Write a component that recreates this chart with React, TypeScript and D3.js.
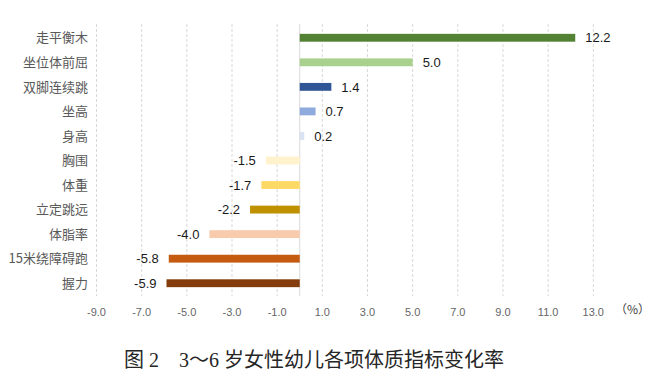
import React from "react";
import * as d3 from "d3";

const categories = ["走平衡木", "坐位体前屈", "双脚连续跳", "坐高", "身高", "胸围", "体重", "立定跳远", "体脂率", "15米绕障碍跑", "握力"];
const values = [12.2, 5.0, 1.4, 0.7, 0.2, -1.5, -1.7, -2.2, -4.0, -5.8, -5.9];
const colors = ["#548235", "#A9D18E", "#2F5597", "#8FAADC", "#DAE3F3", "#FFF2CC", "#FFD966", "#BF9000", "#F8CBAD", "#C55A11", "#843C0C"];
const tickValues = [-9, -7, -5, -3, -1, 1, 3, 5, 7, 9, 11, 13];
const captionFig = "图 2";
const captionText = "3～6 岁女性幼儿各项体质指标变化率";

export default function App() {
  const W = 658, H = 381;
  const x = d3.scaleLinear().domain([-9, 13]).range([96.5, 593.3]);
  const y = d3.scaleBand<string>().domain(categories).range([25.5, 295.5]).paddingInner(0.68).paddingOuter(0.34);
  const bw = y.bandwidth();
  const cjk = "'Noto Sans CJK SC', sans-serif";
  const num = "'Liberation Sans', 'DejaVu Sans', sans-serif";
  const serif = "'Liberation Serif', 'Noto Sans CJK SC', serif";
  return (
    <svg width={W} height={H} style={{ position: "absolute", left: 0, top: 0, background: "#fff" }}>
      {tickValues.map((t) => (
        <line key={"g" + t} x1={x(t)} x2={x(t)} y1={24} y2={296} stroke="#d9d9d9" strokeWidth={1} strokeDasharray="3,2" />
      ))}
      <line x1={x(0)} x2={x(0)} y1={24} y2={296} stroke="#d9d9d9" strokeWidth={1} />
      {categories.map((c, i) => {
        const v = values[i];
        const x0 = Math.min(x(0), x(v));
        const w = Math.abs(x(v) - x(0));
        const yc = (y(c) as number) + bw / 2;
        return (
          <g key={c}>
            <rect x={x0} y={y(c)} width={w} height={bw} fill={colors[i]} />
            <text x={v >= 0 ? x(v) + 10 : x(v) - 10} y={yc} dy="0.36em" textAnchor={v >= 0 ? "start" : "end"} fontFamily={num} fontSize={13} fill="#1a1a1a">
              {v.toFixed(1)}
            </text>
            <text x={88} y={yc} dy="0.36em" textAnchor="end" fontFamily={cjk} fontSize={13} fill="#595959">
              {c}
            </text>
          </g>
        );
      })}
      {tickValues.map((t) => (
        <text key={"t" + t} x={x(t)} y={312} dy="0.36em" textAnchor="middle" fontFamily={num} fontSize={11} fill="#666666">
          {t.toFixed(1)}
        </text>
      ))}
      <text x={615} y={310} dy="0.36em" fontFamily={cjk} fontSize={12} fill="#404040">（%）</text>
      <text y={360} dy="0.36em" fontFamily={serif} fontSize={20} fill="#262626">
        <tspan x={124}>{captionFig}</tspan>
        <tspan x={179}>{captionText}</tspan>
      </text>
    </svg>
  );
}
